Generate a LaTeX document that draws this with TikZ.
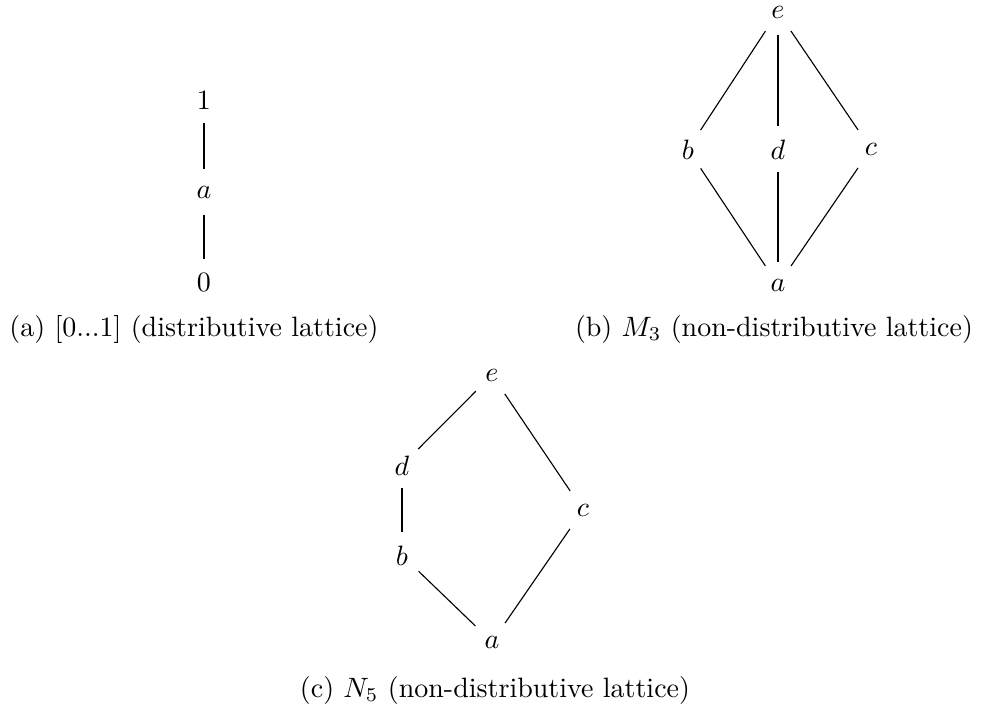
\documentclass[tikz,border=0pt]{standalone}
\usepackage{tikz}
\usetikzlibrary{positioning}

\begin{document}
\begin{tikzpicture}[
    x=0.357pt, y=-0.357pt,
    elem/.style={circle, inner sep=0pt, minimum size=16pt, anchor=base},
    subcap/.style={anchor=base, inner sep=0pt},
    link/.style={line width=0.4pt, draw=black},
]
\useasboundingbox (0,0) rectangle (992,717);

% (a) chain
\node[elem] (one) at (204,109) {$1$};
\node[elem] (ca) at (204,198) {$a$};
\node[elem] (zero) at (204,291) {$0$};
\node[subcap] (capa) at (194,336) {(a) [0...1] (distributive lattice)};

\draw[link] (one) -- (ca);
\draw[link] (ca) -- (zero);

% (b) M3
\node[elem] (me) at (778,18) {$e$};
\node[elem] (mb) at (688,159) {$b$};
\node[elem] (md) at (778,159) {$d$};
\node[elem] (mc) at (871,155) {$c$};
\node[elem] (ma) at (778,291) {$a$};
\node[subcap] (capb) at (774,336) {(b) $M_3$ (non-distributive lattice)};

\draw[link] (me) -- (mb);
\draw[link] (me) -- (md);
\draw[link] (me) -- (mc);
\draw[link] (mb) -- (ma);
\draw[link] (md) -- (ma);
\draw[link] (mc) -- (ma);

% (c) N5
\node[elem] (ne) at (492,381) {$e$};
\node[elem] (nd) at (402,475) {$d$};
\node[elem] (nb) at (402,565) {$b$};
\node[elem] (nc) at (583,516) {$c$};
\node[elem] (na) at (492,648) {$a$};
\node[subcap] (capc) at (495,697) {(c) $N_5$ (non-distributive lattice)};

\draw[link] (ne) -- (nd);
\draw[link] (nd) -- (nb);
\draw[link] (nb) -- (na);
\draw[link] (ne) -- (nc);
\draw[link] (nc) -- (na);
\end{tikzpicture}
\end{document}
